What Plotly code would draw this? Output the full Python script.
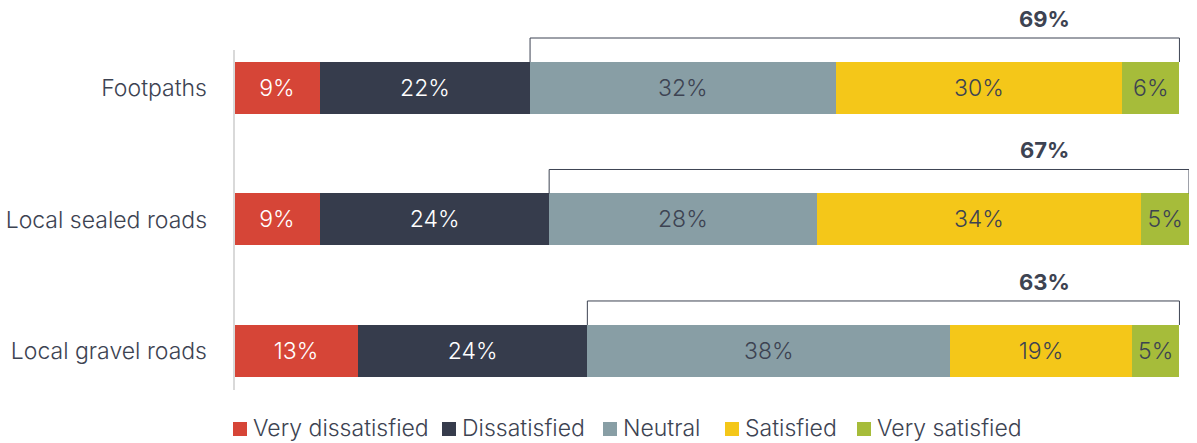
import plotly.graph_objects as go

# Survey results: satisfaction with local infrastructure (% of respondents)
categories = ["Footpaths", "Local sealed roads", "Local gravel roads"]
series_names = ["Very dissatisfied", "Dissatisfied", "Neutral", "Satisfied", "Very satisfied"]
very_dissatisfied = [9, 9, 13]
dissatisfied = [22, 24, 24]
neutral = [32, 28, 38]
satisfied = [30, 34, 19]
very_satisfied = [6, 5, 5]
# Neutral-or-better totals shown above each bar
neutral_or_better = [69, 67, 63]

series_values = [very_dissatisfied, dissatisfied, neutral, satisfied, very_satisfied]
colors = ["#D64537", "#363C4C", "#889EA5", "#F4C719", "#A6BC3A"]
text_dark = "#3D4352"
label_colors = ["#FFFFFF", "#FFFFFF", text_dark, text_dark, text_dark]
FONT = "Inter, Roboto, Arial, sans-serif"
FS = 23

BAR_W = 0.395

fig = go.Figure()
for name, vals, col, tcol in zip(series_names, series_values, colors, label_colors):
    fig.add_trace(go.Bar(
        y=categories, x=vals, name=name, orientation="h", width=BAR_W,
        marker=dict(color=col, line=dict(width=0)),
        text=[f"{v}%" for v in vals], textposition="inside",
        insidetextanchor="middle", textangle=0, constraintext="none",
        insidetextfont=dict(family=FONT, size=FS, color=tcol, weight=300),
        hovertemplate="%{y}: %{x}%<extra>" + name + "</extra>",
    ))

shapes = []
annotations = []
for i, cat in enumerate(categories):
    start = very_dissatisfied[i] + dissatisfied[i]
    end = sum(s[i] for s in series_values)
    bar_top = i - BAR_W / 2
    top = i - 0.38
    line = dict(color=text_dark, width=1)
    shapes.append(dict(type="line", xref="x", yref="y", x0=start, x1=start, y0=bar_top, y1=top, line=line))
    shapes.append(dict(type="line", xref="x", yref="y", x0=start, x1=end, y0=top, y1=top, line=line))
    shapes.append(dict(type="line", xref="x", yref="y", x0=end, x1=end, y0=top, y1=bar_top, line=line))
    annotations.append(dict(
        x=84.9, y=i - 0.525, xref="x", yref="y", showarrow=False,
        text=f"<b>{neutral_or_better[i]}%</b>",
        font=dict(family=FONT, size=22, color=text_dark),
    ))

# Vertical baseline on the category axis
shapes.append(dict(type="line", xref="paper", yref="paper", x0=0, x1=0, y0=0, y1=0.883,
                   line=dict(color="#D9D9D9", width=2)))

# Legend row: colour swatches followed by series names
legend_x = [233, 442, 603, 725, 857]
plot_left, plot_w = 234, 955
plot_bottom, plot_h = 390, 385
for name, col, px in zip(series_names, colors, legend_x):
    x0 = (px - plot_left) / plot_w
    x1 = (px + 14 - plot_left) / plot_w
    shapes.append(dict(type="rect", xref="paper", yref="paper", x0=x0, x1=x1,
                       y0=(plot_bottom - 436) / plot_h, y1=(plot_bottom - 422) / plot_h,
                       fillcolor=col, line=dict(width=0)))
    annotations.append(dict(
        x=(px + 18 - plot_left) / plot_w, y=(plot_bottom - 428) / plot_h,
        xref="paper", yref="paper", xanchor="left", yanchor="middle", showarrow=False,
        text=name, font=dict(family=FONT, size=FS, color=text_dark, weight=300),
    ))

fig.update_layout(
    barmode="stack",
    width=1197, height=443,
    margin=dict(l=234, r=8, t=5, b=53),
    paper_bgcolor="white", plot_bgcolor="white",
    showlegend=False,
    font=dict(family=FONT, size=FS, color=text_dark),
    xaxis=dict(range=[0, 100], visible=False, fixedrange=True),
    yaxis=dict(
        type="category", categoryorder="array", categoryarray=categories,
        range=[2.297, -0.631], showline=False, showgrid=False, zeroline=False,
        ticks="", ticklabelstandoff=26,
        tickfont=dict(family=FONT, size=FS, color=text_dark, weight=300),
    ),
    shapes=shapes,
    annotations=annotations,
)

fig.write_html("out.html")
